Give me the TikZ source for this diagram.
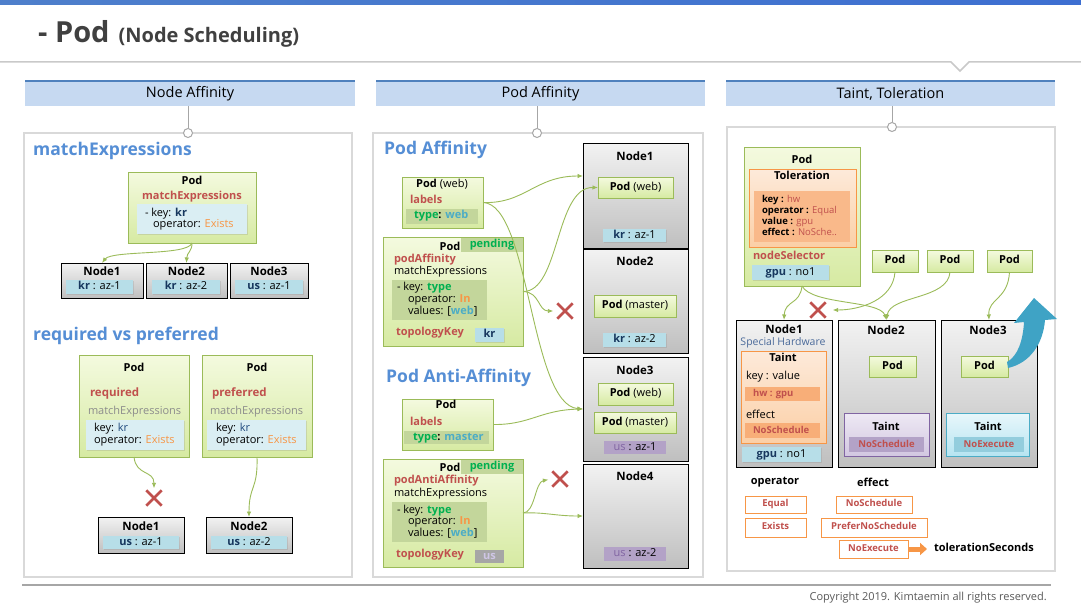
\documentclass[tikz,border=0pt]{standalone}
\usepackage{fontspec}
\setmainfont{Open Sans}
\usetikzlibrary{arrows.meta,shadows}
\definecolor{topA}{HTML}{4E7FCB}
\definecolor{topB}{HTML}{A3C1E8}
\definecolor{topC}{HTML}{3D6FD1}
\definecolor{ttl}{HTML}{404040}
\definecolor{sepc}{HTML}{C9C9C9}
\definecolor{hdrfill}{HTML}{C6D9F1}
\definecolor{hdrline}{HTML}{4F81BD}
\definecolor{panelc}{HTML}{D9D9D9}
\definecolor{circc}{HTML}{A6A6A6}
\definecolor{headblue}{HTML}{558ED5}
\definecolor{grnT}{HTML}{F4FADF}
\definecolor{grnB}{HTML}{D6EAA2}
\definecolor{grnE}{HTML}{9BBB59}
\definecolor{grnbar}{HTML}{C3D69B}
\definecolor{grntxt}{HTML}{00B050}
\definecolor{nodeT}{HTML}{F2F2F2}
\definecolor{nodeB}{HTML}{BFBFBF}
\definecolor{bluebar}{HTML}{B7DEE8}
\definecolor{bluelt}{HTML}{DAEEF3}
\definecolor{navy}{HTML}{17375E}
\definecolor{keyblue}{HTML}{1F497D}
\definecolor{redt}{HTML}{C0504D}
\definecolor{orgt}{HTML}{F79646}
\definecolor{cyant}{HTML}{4BACC6}
\definecolor{purbar}{HTML}{B3A2C7}
\definecolor{purt}{HTML}{8064A2}
\definecolor{grayt}{HTML}{8C8C8C}
\definecolor{usbox}{HTML}{A6A6A6}
\definecolor{ustxt}{HTML}{CFC6E6}
\definecolor{orT}{HTML}{FDEADA}
\definecolor{orB}{HTML}{FBCFA6}
\definecolor{orIn}{HTML}{F9B98A}
\definecolor{orBar}{HTML}{F8AE78}
\definecolor{purT}{HTML}{EEE9F4}
\definecolor{purB}{HTML}{D2C7E1}
\definecolor{cyT}{HTML}{E8F7FB}
\definecolor{cyB}{HTML}{B6E4F1}
\definecolor{cybar}{HTML}{93CDDD}
\definecolor{bigarr}{HTML}{3FA3C5}
\definecolor{spec}{HTML}{4A6A9A}
\definecolor{copyc}{HTML}{595959}
\definecolor{footc}{HTML}{A6A6A6}
\newcommand{\BX}[7]{\node[inner sep=0pt, outer sep=0pt, anchor=north west,
  minimum width={(#5-#3)*1pt}, minimum height={(#6-#4)*1pt}, #1] (#2) at (#3,#4) {#7};}
\tikzset{
  fb/.style={font=\fontsize{11}{13}\selectfont\bfseries},
  fn/.style={font=\fontsize{11.5}{13}\selectfont\bfseries},
  fr/.style={font=\fontsize{11}{13}\selectfont},
  fs/.style={font=\fontsize{9.5}{11}\selectfont\bfseries},
  tx/.style={inner sep=0pt, outer sep=0pt, text height=7.8pt, text depth=2.2pt},
  hd/.style={inner sep=0pt, font=\fontsize{17.5}{19}\selectfont\bfseries, text=headblue, anchor=west},
  shd/.style={drop shadow={shadow xshift=1.2pt, shadow yshift=-1.2pt, opacity=0.22}},
  panelbox/.style={draw=panelc, line width=1.6pt, fill=white},
  hdrbox/.style={fill=hdrfill, font=\fontsize{14.5}{16}\selectfont},
  circ/.style={circle, draw=circc, fill=white, line width=1pt, minimum size=9pt, inner sep=0pt},
  circl/.style={draw=circc, line width=0.8pt},
  podbox/.style={draw=grnE, line width=0.8pt, top color=grnT, bottom color=grnB, shd},
  nodebox/.style={draw=black, line width=0.9pt, top color=nodeT, bottom color=nodeB, shd},
  bbar/.style={fill=bluebar, shd, fr, tx},
  lbar/.style={fill=bluelt, shd},
  gbar/.style={fill=grnbar},
  pbar/.style={fill=purbar, fr, tx},
  orbox/.style={draw=orgt, line width=0.8pt, top color=orT, bottom color=orB, shd},
  purbox/.style={draw=purt, line width=0.8pt, top color=purT, bottom color=purB, shd},
  cybox/.style={draw=cyant, line width=0.8pt, top color=cyT, bottom color=cyB, shd},
  optbox/.style={draw=orgt, line width=0.8pt, fill=white, fs, text=redt, tx, text height=6.8pt, text depth=2pt},
  garr/.style={draw=grnE, line width=0.9pt, -{Latex[length=5.5pt,width=4.5pt]}},
  xnode/.style={inner sep=0pt, minimum size=15pt},
  xmark/.style={draw=redt, line width=2.8pt},
}
\begin{document}
\begin{tikzpicture}[x=1pt,y=-1pt]
\useasboundingbox (0,0) rectangle (1081,610);
% top band and title
\shade[left color=topA, middle color=topB, right color=topC] (0,0) rectangle (1081,4.5);
\node[anchor=base west, inner sep=0pt, text=ttl] (title) at (38,43)
  {\fontsize{29}{30}\selectfont\bfseries - Pod\hspace{9pt}\fontsize{20}{22}\selectfont (Node Scheduling)};
\draw[sepc, line width=1.5pt, fill=white] (0,62) -- (951,62) -- (960,71) -- (969,62) -- (1081,62);
% headers
\BX{hdrbox}{h1}{25}{81}{355}{106}{Node Affinity}
\BX{hdrbox}{h2}{376}{81}{705}{106}{Pod Affinity}
\BX{hdrbox}{h3}{726}{81}{1055}{106}{Taint, Toleration}
\foreach \h in {h1,h2,h3} \draw[hdrline, line width=2pt] (\h.north west) -- (\h.north east);
% panels
\BX{panelbox}{p1}{24}{133}{352}{577}{}
\BX{panelbox}{p2}{373}{133}{703}{577}{}
\BX{panelbox}{p3}{727}{127}{1055}{571}{}
\node[circ] (c1) at (188,133) {};
\node[circ] (c2) at (537,133) {};
\node[circ] (c3) at (892,127) {};
\draw[circl] (c1.north) -- (c1.north |- h1.south);
\draw[circl] (c2.north) -- (c2.north |- h2.south);
\draw[circl] (c3.north) -- (c3.north |- h3.south);
% footer
\draw[footc, line width=1.5pt] (22,585) -- (1051,585);
\node[anchor=east, inner sep=0pt, text=copyc, font=\fontsize{11}{13}\selectfont] (copy) at (1047,598)
  {Copyright 2019. Kimtaemin all rights reserved.};

% ================= LEFT PANEL =================
\node[hd] (lh1) at (33,151) {matchExpressions};
\BX{podbox}{pa0}{128}{172}{256}{243}{}
\node[fb, tx] (pa0t) at (192,182) {Pod};
\node[fb, tx, text=redt] (pa0m) at (192,197) {matchExpressions};
\BX{lbar}{pa0i}{137}{204}{247}{234}{}
\node[fr, tx, anchor=west] (pa0k) at (145,214) {- key: \textbf{\color{navy}kr}};
\node[fr, tx, anchor=west] (pa0o) at (153,225) {operator: \textcolor{orgt}{Exists}};
\BX{nodebox}{ln1}{61}{263}{143}{298}{}
\BX{nodebox}{ln2}{146}{263}{227}{298}{}
\BX{nodebox}{ln3}{230}{263}{308}{298}{}
\node[fn, tx] (ln1t) at (102,273) {Node1};
\node[fn, tx] (ln2t) at (186.5,273) {Node2};
\node[fn, tx] (ln3t) at (269,273) {Node3};
\BX{bbar}{ln1b}{66}{280}{133}{294}{{\bfseries\color{navy}kr} : az-1}
\BX{bbar}{ln2b}{152}{280}{220}{294}{{\bfseries\color{navy}kr} : az-2}
\BX{bbar}{ln3b}{235}{280}{303}{294}{{\bfseries\color{navy}us} : az-1}
\draw[garr] (pa0.south) .. controls (188,256) and (112,250) .. (ln1.north);
\draw[garr] (pa0.south) .. controls (192,252) and (187,252) .. (ln2.north);

\node[hd] (lh2) at (33,336) {required vs preferred};
\BX{podbox}{preq}{79}{355}{189}{457}{}
\BX{podbox}{ppref}{202}{355}{312}{457}{}
\node[fb, tx] (preqt) at (134,369) {Pod};
\node[fb, tx] (pprefs) at (257,369) {Pod};
\node[fn, tx, anchor=west, text=redt] (preqr) at (90,394) {required};
\node[fn, tx, anchor=west, text=redt] (pprefr) at (212,394) {preferred};
\node[fr, tx, anchor=west, text=grayt] (preqm) at (88,412) {matchExpressions};
\node[fr, tx, anchor=west, text=grayt] (pprefm) at (210,412) {matchExpressions};
\BX{lbar}{preqi}{86}{420}{184}{450}{}
\BX{lbar}{pprefi}{207}{420}{306}{450}{}
\node[fr, tx, anchor=west] (preqk) at (94,429) {key: \textcolor{keyblue}{kr}};
\node[fr, tx, anchor=west] (preqo) at (94,441) {operator: \textcolor{orgt}{Exists}};
\node[fr, tx, anchor=west] (pprefk) at (216,429) {key: \textcolor{keyblue}{kr}};
\node[fr, tx, anchor=west] (pprefo) at (216,441) {operator: \textcolor{orgt}{Exists}};
\node[xnode] (x1) at (154,498) {};
\draw[xmark] (x1.north west) -- (x1.south east) (x1.south west) -- (x1.north east);
\BX{nodebox}{lm1}{98}{517}{184}{553}{}
\BX{nodebox}{lm2}{206}{517}{292}{553}{}
\node[fn, tx] (lm1t) at (141,528) {Node1};
\node[fn, tx] (lm2t) at (249,528) {Node2};
\BX{bbar}{lm1b}{103}{536}{179}{549}{{\bfseries\color{navy}us} : az-1}
\BX{bbar}{lm2b}{211}{536}{287}{549}{{\bfseries\color{navy}us} : az-2}
\draw[garr, shorten >=2pt] (preq.south) .. controls (136,476) and (154,470) .. (x1.north);
\draw[garr] (ppref.south) .. controls (258,490) and (249,485) .. (lm2.north);

% ================= MIDDLE PANEL =================
\node[hd] (mh1) at (384,150) {Pod Affinity};
\node[hd] (mh2) at (386,378) {Pod Anti-Affinity};
% Pod (web)
\BX{podbox}{pw}{402}{177}{483}{228}{}
\node[fb, tx] (pwt) at (442,185) {Pod {\mdseries (web)}};
\node[fb, tx, anchor=west, text=redt] (pwl) at (410,201) {labels};
\BX{gbar}{pwb}{406}{209}{478}{224}{}
\node[fb, tx, anchor=west] (pwbt) at (414,216) {\textcolor{grntxt}{type}: \textcolor{cyant}{web}};
% pending podAffinity
\BX{podbox}{pp}{383}{237}{523}{346}{}
\BX{gbar}{ppg}{461}{238}{523}{252}{}
\node[fb, tx] (ppt) at (450,248) {Pod};
\node[fb, tx, text=grntxt] (ppp) at (492,245) {pending};
\node[fb, tx, anchor=west, text=redt] (ppa) at (394,260) {podAffinity};
\node[fr, tx, anchor=west] (ppm) at (394,272) {matchExpressions};
\BX{gbar}{ppi}{392}{280}{487}{320}{}
\node[fr, tx, anchor=west] (ppk) at (397,288) {- key: \textbf{\color{grntxt}type}};
\node[fr, tx, anchor=west] (ppo) at (408,300) {operator: \textbf{\color{orgt}In}};
\node[fr, tx, anchor=west] (ppv) at (408,312) {values: [\textbf{\color{cyant}web}]};
\node[fb, tx, anchor=west, text=redt] (pptk) at (396,333) {topologyKey};
\BX{bbar}{ppkr}{475}{328}{504}{342}{\bfseries\color{navy}kr}
% Pod labels master
\BX{podbox}{pmst}{402}{399}{493}{450}{}
\node[fb, tx] (pmstt) at (446,406) {Pod};
\node[fb, tx, anchor=west, text=redt] (pmstl) at (410,423) {labels};
\BX{gbar}{pmstb}{404}{431}{489}{444}{}
\node[fb, tx, anchor=west] (pmstbt) at (413,438) {\textcolor{grntxt}{type}: \textcolor{cyant}{master}};
% pending podAntiAffinity
\BX{podbox}{pa}{383}{459}{523}{567}{}
\BX{gbar}{pag}{461}{460}{523}{474}{}
\node[fb, tx] (pat) at (450,469) {Pod};
\node[fb, tx, text=grntxt] (pap) at (492,467) {pending};
\node[fb, tx, anchor=west, text=redt] (paa) at (394,481) {podAntiAffinity};
\node[fr, tx, anchor=west] (pam) at (394,494) {matchExpressions};
\BX{gbar}{pai}{392}{502}{487}{542}{}
\node[fr, tx, anchor=west] (pak) at (397,511) {- key: \textbf{\color{grntxt}type}};
\node[fr, tx, anchor=west] (pao) at (408,522) {operator: \textbf{\color{orgt}In}};
\node[fr, tx, anchor=west] (pav) at (408,534) {values: [\textbf{\color{cyant}web}]};
\node[fb, tx, anchor=west, text=redt] (patk) at (396,555) {topologyKey};
\BX{fill=usbox, fb, tx, text=ustxt}{paus}{475}{550}{504}{563}{us}
% nodes
\BX{nodebox}{n1}{583}{143}{688}{248}{}
\BX{nodebox}{n2}{583}{249}{688}{353}{}
\BX{nodebox}{n3}{583}{357}{688}{461}{}
\BX{nodebox}{n4}{583}{464}{688}{568}{}
\node[fn, tx] (n1t) at (635,158) {Node1};
\node[fn, tx] (n2t) at (635,263) {Node2};
\node[fn, tx] (n3t) at (635,372) {Node3};
\node[fn, tx] (n4t) at (635,478) {Node4};
\BX{podbox, fb, tx}{pw1}{598}{177}{673}{198}{Pod {\mdseries (web)}}
\BX{podbox, fb, tx}{pm2}{594}{295}{676}{317}{Pod {\mdseries (master)}}
\BX{podbox, fb, tx}{pw3}{598}{383}{673}{405}{Pod {\mdseries (web)}}
\BX{podbox, fb, tx}{pm3}{594}{412}{676}{433}{Pod {\mdseries (master)}}
\BX{bbar}{n1b}{603}{229}{666}{242}{{\bfseries\color{navy}kr} : az-1}
\BX{bbar}{n2b}{603}{333}{666}{347}{{\bfseries\color{navy}kr} : az-2}
\BX{pbar}{n3b}{604}{441}{666}{454}{{\color{purt}us} : az-1}
\BX{pbar}{n4b}{604}{547}{666}{561}{{\color{purt}us} : az-2}
\node[xnode] (x2) at (565,311) {};
\draw[xmark] (x2.north west) -- (x2.south east) (x2.south west) -- (x2.north east);
\node[xnode] (x3) at (560,479) {};
\draw[xmark] (x3.north west) -- (x3.south east) (x3.south west) -- (x3.north east);
\draw[garr] (pw.east) .. controls (525,204) and (535,176) .. ([yshift=-33pt]n1.north west);
\draw[garr] (pw.east) .. controls (530,204) and (530,405) .. (n3.west);
\draw[garr] (pmst.east) .. controls (530,425) and (540,410) .. (n3.west);
\draw[garr] (pp.east) .. controls (560,292) and (555,187) .. (pw1.west);
\draw[garr, shorten >=4pt] (pp.east) .. controls (540,292) and (538,311) .. (x2.west);
\draw[garr, shorten >=4pt] (pa.east) .. controls (535,513) and (535,482) .. (x3.west);
\draw[garr] (pa.east) .. controls (545,512) and (555,516) .. (n4.west);

% ================= RIGHT PANEL =================
\BX{podbox}{rpod}{744}{147}{860}{286}{}
\node[fb, tx] (rpodt) at (802,161) {Pod};
\BX{orbox}{tol}{749}{169}{856}{247}{}
\node[fb, tx] (tolt) at (802,177) {Toleration};
\BX{fill=orIn}{toli}{754}{191}{850}{242}{}
\node[fs, tx, anchor=west] (tol1) at (762,200) {key : \textcolor{redt}{\mdseries hw}};
\node[fs, tx, anchor=west] (tol2) at (762,211) {operator : \textcolor{redt}{\mdseries Equal}};
\node[fs, tx, anchor=west] (tol3) at (762,222) {value : \textcolor{redt}{\mdseries gpu}};
\node[fs, tx, anchor=west] (tol4) at (762,233) {effect : \textcolor{redt}{\mdseries NoSche..}};
\node[fb, tx, anchor=west, text=redt] (nsel) at (753,257) {nodeSelector};
\BX{bbar}{rgpu}{752}{265}{829}{280}{{\bfseries\color{navy}gpu} : no1}
\BX{podbox, fb, tx}{pA}{872}{250}{918}{272}{Pod}
\BX{podbox, fb, tx}{pB}{927}{250}{973}{272}{Pod}
\BX{podbox, fb, tx}{pC}{987}{250}{1032}{272}{Pod}
% nodes
\BX{nodebox}{rn1}{736}{320}{832}{467}{}
\BX{nodebox}{rn2}{838}{320}{935}{467}{}
\BX{nodebox}{rn3}{941}{320}{1037}{467}{}
\node[fn, tx] (rn1t) at (784,331) {Node1};
\node[fn, tx] (rn2t) at (886,332) {Node2};
\node[fn, tx] (rn3t) at (988,332) {Node3};
\node[inner sep=0pt, font=\fontsize{10.5}{12}\selectfont, text=spec] (spec) at (783,342.5) {Special Hardware};
\BX{orbox}{tn1}{741}{351}{826}{443}{}
\node[fb, tx] (tn1t) at (783,359) {Taint};
\node[fr, tx, anchor=west] (tn1k) at (746,377) {key : value};
\BX{fill=orBar}{tn1a}{745}{387}{820}{401}{}
\node[fs, tx, anchor=west, text=redt] (tn1at) at (753,394) {hw : gpu};
\node[fr, tx, anchor=west] (tn1e) at (746,416) {effect};
\BX{fill=orBar}{tn1b}{745}{423}{820}{438}{}
\node[fs, tx, anchor=west, text=redt] (tn1bt) at (753,430.5) {NoSchedule};
\BX{bbar}{rn1g}{742}{447}{821}{462}{{\bfseries\color{navy}gpu} : no1}
\BX{podbox, fb, tx}{rp2}{869}{356}{916}{377}{Pod}
\BX{podbox, fb, tx}{rp3}{961}{356}{1008}{377}{Pod}
\BX{purbox}{tn2}{844}{413}{929}{456}{}
\node[fb, tx] (tn2t) at (886,428) {Taint};
\BX{fill=purbar, fs, tx, text=redt}{tn2b}{849}{437}{924}{452}{NoSchedule}
\BX{cybox}{tn3}{946}{413}{1029}{456}{}
\node[fb, tx] (tn3t) at (988,428) {Taint};
\BX{fill=cybar, fs, tx, text=redt}{tn3b}{954}{437}{1024}{452}{NoExecute}
\node[xnode] (x4) at (818,310) {};
\draw[xmark] (x4.north west) -- (x4.south east) (x4.south west) -- (x4.north east);
\draw[garr] (rpod.south) .. controls (800,305) and (785,300) .. (rn1.north);
\draw[garr] (rpod.south) .. controls (812,305) and (880,300) .. (rn2.north);
\draw[garr, shorten >=7pt] (pA.south) .. controls (893,300) and (860,310) .. (x4.east);
\draw[garr] (pB.south) .. controls (948,300) and (890,295) .. (rn2.north);
\draw[garr] (pC.south) .. controls (1008,300) and (988,298) .. (rn3.north);
% big evict arrow
\fill[bigarr] (1007,362) .. controls (1018,356) and (1023,340) .. (1024,322) -- (1014,323)
  -- (1034,298) -- (1057,319) -- (1045,320) .. controls (1043,344) and (1030,363) .. (1008,368) -- cycle;
% operator / effect legend
\node[fb, tx] (opl) at (775,482) {operator};
\node[fb, tx] (efl) at (873,484) {effect};
\BX{optbox}{oe}{745}{496}{806}{513}{Equal}
\BX{optbox}{ox}{745}{518}{806}{537}{Exists}
\BX{optbox}{ens}{836}{496}{912}{513}{NoSchedule}
\BX{optbox}{epn}{821}{518}{927}{537}{PreferNoSchedule}
\BX{optbox}{ene}{839}{540}{908}{558}{NoExecute}
\node[fb, tx, anchor=west] (tsec) at (934,549) {tolerationSeconds};
\draw[orgt, line width=5pt, -{Triangle[length=7pt,width=12pt]}, shorten >=7pt] (ene.east) -- (tsec.west);
\end{tikzpicture}
\end{document}
